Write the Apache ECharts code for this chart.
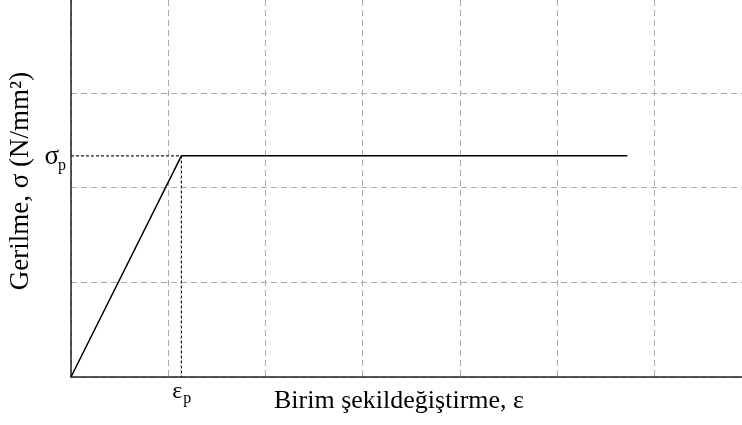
<!DOCTYPE html>
<html><head><meta charset="utf-8">
<script src="https://cdn.jsdelivr.net/npm/echarts@6/dist/echarts.min.js"></script>
<style>html,body{margin:0;padding:0;background:#fff}#c{width:742px;height:425px}</style>
</head><body><div id="c"></div>
<script>
// strain (x) and stress (y) in grid units
const curveX = [0, 1.135, 5.72];
const curveY = [0, 2.335, 2.335];
const yieldPoint = [1.135, 2.335];
const xTitle = 'Birim şekildeğiştirme, ε';
const yTitle = 'Gerilme, σ (N/mm²)';
const sigmaLabel = 'σ';
const epsLabel = 'ε';
const subLabel = 'p';

const FONT = '"Liberation Serif", "DejaVu Serif", serif';
const chart = echarts.init(document.getElementById('c'), null, {renderer: 'canvas'});
const gridStyle = {show: true, showMaxLine: false, lineStyle: {color: '#aaaaaa', width: 1, type: [6, 4]}};
chart.setOption({
  animation: false,
  backgroundColor: '#fff',
  grid: {left: 71, right: 0, top: 0, bottom: 48, containLabel: false},
  xAxis: {type: 'value', min: 0, max: 6.9, interval: 1,
    axisLine: {show: true, onZero: false, lineStyle: {color: '#222', width: 1.5}},
    axisTick: {show: false}, axisLabel: {show: false}, splitLine: gridStyle},
  yAxis: {type: 'value', min: 0, max: 3.98, interval: 1,
    axisLine: {show: true, onZero: false, lineStyle: {color: '#222', width: 1.5}},
    axisTick: {show: false}, axisLabel: {show: false}, splitLine: gridStyle},
  series: [
    {type: 'line', data: [[0, yieldPoint[1]], yieldPoint, [yieldPoint[0], 0]], symbol: 'none',
      lineStyle: {color: '#222', width: 1.2, type: [3, 2]}, z: 3},
    {type: 'line', data: curveX.map((x, i) => [x, curveY[i]]), symbol: 'none',
      lineStyle: {color: '#000', width: 1.5}, z: 4}
  ]
});
const P = chart.convertToPixel({gridIndex: 0}, yieldPoint);
const O = chart.convertToPixel({gridIndex: 0}, [0, 0]);
const txt = (x, y, t, size, extra) => Object.assign({type: 'text', x, y, style: Object.assign({text: t, font: size + 'px ' + FONT, fill: '#000'}, extra || {})});
chart.setOption({graphic: [
  txt(O[0] - 12, P[1] + 15, sigmaLabel, 27, {textAlign: 'right', textVerticalAlign: 'bottom'}),
  txt(O[0] - 13, P[1] + 18, subLabel, 16, {textAlign: 'left', textVerticalAlign: 'bottom'}),
  txt(P[0] + 1, O[1] + 27, epsLabel, 24, {textAlign: 'right', textVerticalAlign: 'bottom'}),
  txt(P[0] + 2, O[1] + 30, subLabel, 16, {textAlign: 'left', textVerticalAlign: 'bottom'}),
  txt(399, O[1] + 37, xTitle, 26, {textAlign: 'center', textVerticalAlign: 'bottom'}),
  Object.assign(txt(21, 181, yTitle, 27, {textAlign: 'center', textVerticalAlign: 'middle'}), {rotation: Math.PI / 2})
]});
</script></body></html>
